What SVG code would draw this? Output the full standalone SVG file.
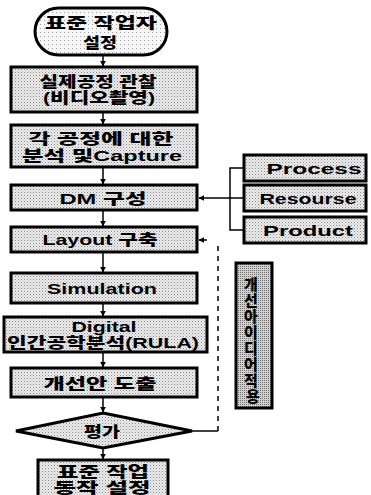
<svg xmlns="http://www.w3.org/2000/svg" width="371" height="495" viewBox="0 0 371 495">
<defs>
<pattern id="dots" width="3" height="3" patternUnits="userSpaceOnUse">
<rect width="3" height="3" fill="#ececec"/>
<rect x="0" y="0" width="1" height="1" fill="#8a8a8a"/>
<rect x="1.5" y="1.5" width="1" height="1" fill="#b0b0b0"/>
</pattern>
<pattern id="dense" width="2" height="2" patternUnits="userSpaceOnUse">
<rect width="2" height="2" fill="#d0d0d0"/>
<rect x="0" y="0" width="1" height="1" fill="#707070"/>
</pattern>
<pattern id="light" width="4" height="4" patternUnits="userSpaceOnUse">
<rect width="4" height="4" fill="#f6f6f6"/>
<rect x="0" y="0" width="1" height="1" fill="#a0a0a0"/>
</pattern>
<marker id="ah" viewBox="0 0 10 10" refX="9" refY="5" markerWidth="6" markerHeight="6" orient="auto" markerUnits="userSpaceOnUse">
<path d="M0,0 L10,5 L0,10 z" fill="#000"/>
</marker>
</defs>
<style>
.box{fill:url(#dots);stroke:#000;stroke-width:3}
.t{font-family:"Liberation Sans","Noto Sans CJK KR",sans-serif;font-weight:900;font-size:15px;fill:#000;text-anchor:middle;dominant-baseline:central}
.c{fill:none;stroke:#000;stroke-width:1.5}
.d{fill:none;stroke:#000;stroke-width:1.5;stroke-dasharray:5,5}
</style>
<g id="connectors">
<line class="c" x1="103" y1="55" x2="103" y2="66" marker-end="url(#ah)"/>
<line class="c" x1="103" y1="112" x2="103" y2="124" marker-end="url(#ah)"/>
<line class="c" x1="103" y1="167" x2="103" y2="184" marker-end="url(#ah)"/>
<line class="c" x1="103" y1="210" x2="103" y2="226" marker-end="url(#ah)"/>
<line class="c" x1="103" y1="252" x2="103" y2="272" marker-end="url(#ah)"/>
<line class="c" x1="103" y1="303" x2="103" y2="316" marker-end="url(#ah)"/>
<line class="c" x1="103" y1="352" x2="103" y2="367" marker-end="url(#ah)"/>
<line class="c" x1="103" y1="397" x2="103" y2="412" marker-end="url(#ah)"/>
<line class="c" x1="103" y1="448" x2="103" y2="459" marker-end="url(#ah)"/>
<polyline class="c" points="243,168 230,168 230,230 243,230"/>
<line class="c" x1="230" y1="198" x2="243" y2="198"/>
<line class="c" x1="230" y1="198" x2="199" y2="198" marker-end="url(#ah)"/>
<line class="c" x1="192" y1="431" x2="218" y2="431"/>
<line class="d" x1="218" y1="431" x2="218" y2="244"/>
<line class="c" x1="207" y1="240" x2="199" y2="240" marker-end="url(#ah)"/>
</g>
<g id="start">
<rect x="35" y="8" width="132" height="47" rx="23.5" fill="url(#light)" stroke="#000" stroke-width="3"/>
<text class="t" x="101" y="22" textLength="112" lengthAdjust="spacingAndGlyphs">표준 작업자</text>
<text class="t" x="100" y="42" textLength="34" lengthAdjust="spacingAndGlyphs">설정</text>
</g>
<g id="observe">
<rect class="box" x="11" y="67" width="186" height="45"/>
<text class="t" x="98" y="81" textLength="117" lengthAdjust="spacingAndGlyphs">실제공정 관찰</text>
<text class="t" x="99" y="97" textLength="112" lengthAdjust="spacingAndGlyphs">(비디오촬영)</text>
</g>
<g id="analysis">
<rect class="box" x="11" y="125" width="186" height="42"/>
<text class="t" x="101" y="138" textLength="145" lengthAdjust="spacingAndGlyphs">각 공정에 대한</text>
<text class="t" x="102" y="155" textLength="160" lengthAdjust="spacingAndGlyphs">분석 및Capture</text>
</g>
<g id="dm">
<rect class="box" x="11" y="185" width="186" height="25"/>
<text class="t" x="103" y="198" textLength="87" lengthAdjust="spacingAndGlyphs">DM 구성</text>
</g>
<g id="layout">
<rect class="box" x="11" y="227" width="186" height="25"/>
<text class="t" x="100" y="239" textLength="115" lengthAdjust="spacingAndGlyphs">Layout 구축</text>
</g>
<g id="simulation">
<rect class="box" x="11" y="273" width="186" height="30"/>
<text class="t" x="102" y="288" textLength="110" lengthAdjust="spacingAndGlyphs">Simulation</text>
</g>
<g id="rula">
<rect class="box" x="4" y="317" width="203" height="35"/>
<text class="t" x="104" y="326" textLength="65" lengthAdjust="spacingAndGlyphs" font-size="14">Digital</text>
<text class="t" x="103" y="342" textLength="192" lengthAdjust="spacingAndGlyphs" font-size="14">인간공학분석(RULA)</text>
</g>
<g id="improve">
<rect class="box" x="11" y="368" width="186" height="29"/>
<text class="t" x="100" y="383" textLength="113" lengthAdjust="spacingAndGlyphs">개선안 도출</text>
</g>
<g id="evaluate">
<polygon points="103,413 192,431 103,448 16,431" fill="url(#dots)" stroke="#000" stroke-width="3"/>
<text class="t" x="102" y="431" textLength="36" lengthAdjust="spacingAndGlyphs">평가</text>
</g>
<g id="final">
<rect class="box" x="38" y="460" width="130" height="45"/>
<text class="t" x="103" y="471" textLength="92" lengthAdjust="spacingAndGlyphs" font-size="14">표준 작업</text>
<text class="t" x="102" y="487" textLength="97" lengthAdjust="spacingAndGlyphs" font-size="14">동작 설정</text>
</g>
<g id="process">
<rect class="box" x="244" y="155" width="122" height="26"/>
<text class="t" x="314" y="168" textLength="95" lengthAdjust="spacingAndGlyphs">Process</text>
</g>
<g id="resource">
<rect class="box" x="244" y="185" width="122" height="26"/>
<text class="t" x="308" y="198" textLength="97" lengthAdjust="spacingAndGlyphs">Resourse</text>
</g>
<g id="product">
<rect class="box" x="244" y="217" width="122" height="26"/>
<text class="t" x="308" y="230" textLength="90" lengthAdjust="spacingAndGlyphs">Product</text>
</g>
<g id="idea">
<rect x="236" y="263" width="36" height="145" fill="url(#dense)" stroke="#000" stroke-width="3"/>
<text class="t" font-size="13">
<tspan x="253" y="284">개</tspan>
<tspan x="253" y="300">선</tspan>
<tspan x="253" y="316">아</tspan>
<tspan x="253" y="332">이</tspan>
<tspan x="253" y="348">디</tspan>
<tspan x="253" y="364">어</tspan>
<tspan x="253" y="380">적</tspan>
<tspan x="253" y="396">용</tspan>
</text>
</g>
</svg>
